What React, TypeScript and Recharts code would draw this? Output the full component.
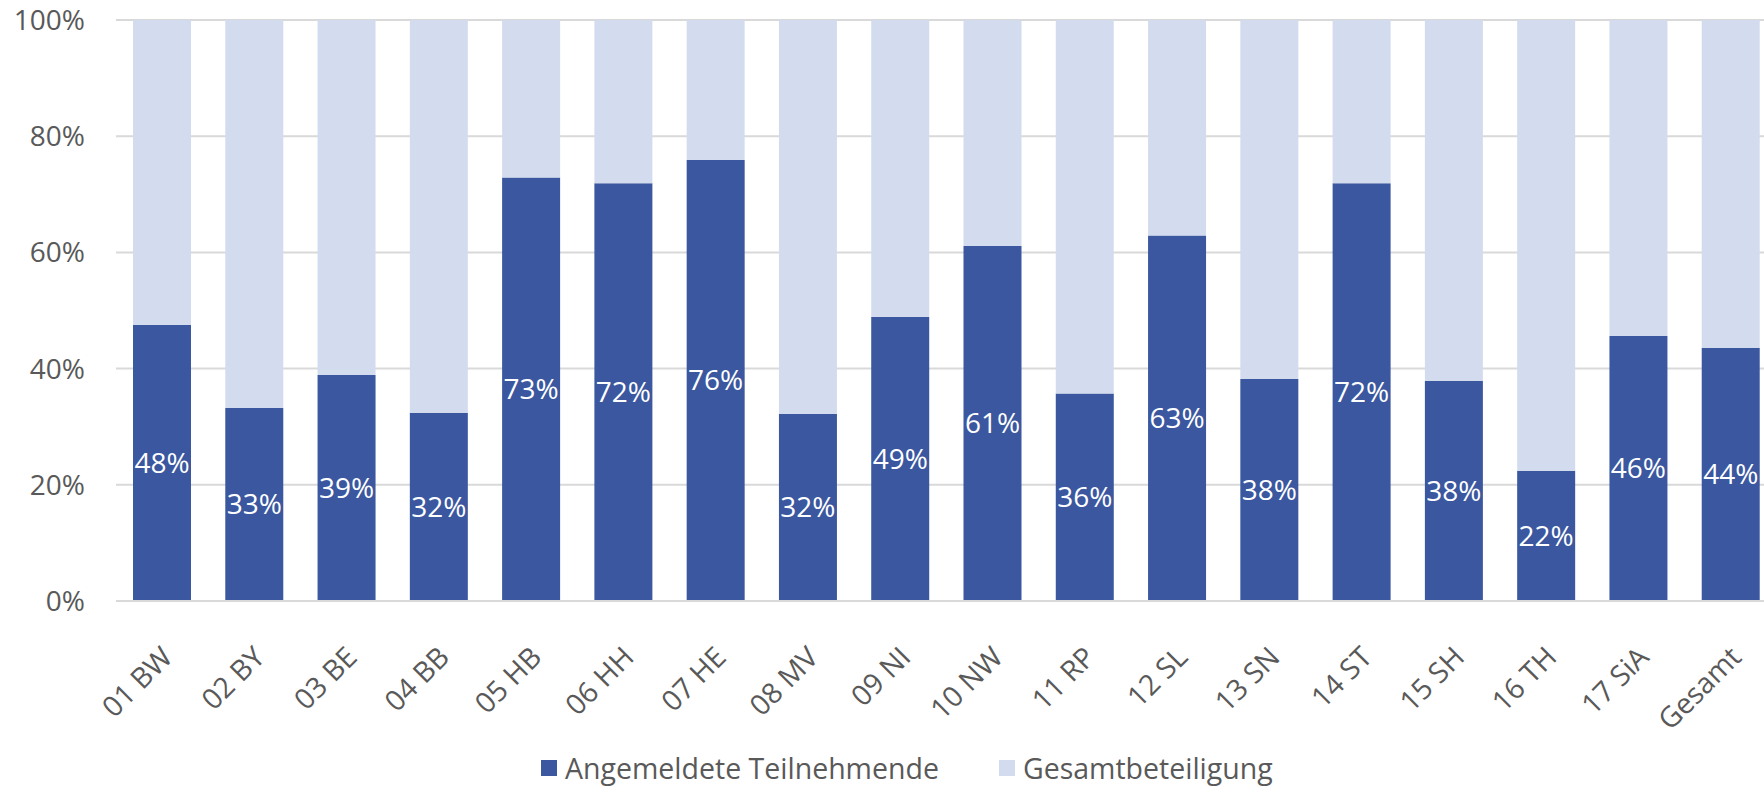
import React from "react";
import {
  BarChart,
  Bar,
  XAxis,
  YAxis,
  CartesianGrid,
  Legend,
  LabelList,
} from "recharts";

const categories = [
  "01 BW", "02 BY", "03 BE", "04 BB", "05 HB", "06 HH", "07 HE", "08 MV", "09 NI",
  "10 NW", "11 RP", "12 SL", "13 SN", "14 ST", "15 SH", "16 TH", "17 SiA", "Gesamt",
];

// Anteil angemeldete Teilnehmende (%)
const angemeldet = [
  47.5, 33.2, 38.9, 32.4, 72.9, 71.9, 75.9, 32.2, 48.9,
  61.1, 35.7, 62.9, 38.2, 71.9, 37.9, 22.4, 45.6, 43.6,
];

// Rest bis zur Gesamtbeteiligung (%)
const gesamtRest = [
  52.5, 66.8, 61.1, 67.6, 27.1, 28.1, 24.1, 67.8, 51.1,
  38.9, 64.3, 37.1, 61.8, 28.1, 62.1, 77.6, 54.4, 56.4,
];

const yTicks = [0, 20, 40, 60, 80, 100];

const DARK = "#3A579F";
const LIGHT = "#D3DCEE";
const GREY = "#595959";
const FONT = "'Open Sans', sans-serif";

const data = categories.map((name, i) => ({
  name,
  angemeldet: angemeldet[i],
  rest: gesamtRest[i],
}));

const XTick = (props: any) => {
  const { x, y, payload } = props;
  const ax = x + 12;
  const ay = y + 50;
  return (
    <text
      x={ax}
      y={ay}
      textAnchor="end"
      fill={GREY}
      fontSize={28.5}
      fontFamily={FONT}
      transform={`rotate(-45, ${ax}, ${ay})`}
    >
      {payload.value}
    </text>
  );
};

const LegendContent = () => (
  <div
    style={{
      display: "flex",
      alignItems: "center",
      fontFamily: FONT,
      fontSize: 28.5,
      color: GREY,
      whiteSpace: "nowrap",
    }}
  >
    <span style={{ width: 16, height: 16, background: DARK, display: "inline-block", marginRight: 8 }} />
    <span style={{ marginRight: 60 }}>Angemeldete Teilnehmende</span>
    <span style={{ width: 16, height: 16, background: LIGHT, display: "inline-block", marginRight: 8 }} />
    <span>Gesamtbeteiligung</span>
  </div>
);

export default function App() {
  return (
    <div
      style={{
        position: "absolute",
        left: 0,
        top: 0,
        width: 1764,
        height: 787,
        overflow: "hidden",
        background: "#fff",
      }}
    >
      <BarChart
        width={1790}
        height={787}
        data={data}
        margin={{ top: 20, right: 13, left: 0, bottom: 0 }}
      >
        <CartesianGrid vertical={false} stroke="#D9D9D9" strokeWidth={2} />
        <XAxis
          dataKey="name"
          interval={0}
          height={148}
          tick={<XTick />}
          tickLine={false}
          axisLine={{ stroke: "#D9D9D9", strokeWidth: 2 }}
        />
        <YAxis
          width={116}
          domain={[0, 100]}
          ticks={yTicks}
          tickFormatter={(v: number) => `${v}%`}
          tick={{ fill: GREY, fontSize: 28, fontFamily: FONT }}
          tickLine={false}
          axisLine={false}
          tickSize={0}
          tickMargin={31}
        />
        <Legend
          verticalAlign="bottom"
          content={<LegendContent />}
          wrapperStyle={{ left: 541, bottom: 0, width: 800, height: 38 }}
        />
        <Bar
          dataKey="angemeldet"
          name="Angemeldete Teilnehmende"
          stackId="a"
          fill={DARK}
          barSize={58}
          isAnimationActive={false}
        >
          <LabelList
            dataKey="angemeldet"
            position="center"
            fill="#fff"
            fontSize={28}
            fontFamily={FONT}
            formatter={(v: number) => `${Math.round(v)}%`}
          />
        </Bar>
        <Bar
          dataKey="rest"
          name="Gesamtbeteiligung"
          stackId="a"
          fill={LIGHT}
          barSize={58}
          isAnimationActive={false}
        />
      </BarChart>
    </div>
  );
}
